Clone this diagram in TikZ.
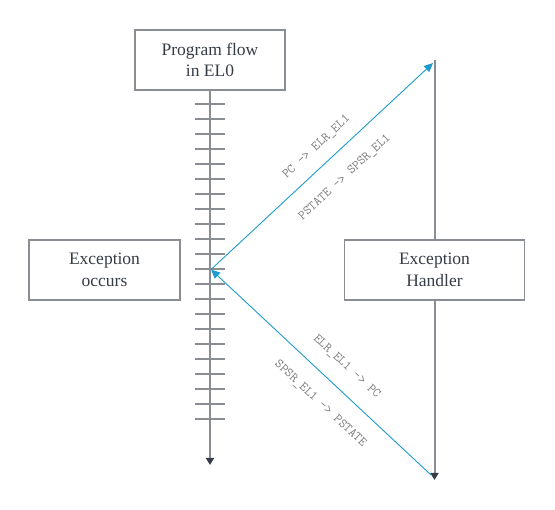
\documentclass[tikz,border=0pt]{standalone}
\usepackage{fontspec}
\setmainfont{Liberation Serif}
\usetikzlibrary{arrows.meta}

\definecolor{boxgray}{HTML}{8A8D92}
\definecolor{inkgray}{HTML}{363C46}
\definecolor{flowblue}{HTML}{1E9BCD}
\definecolor{labelgray}{HTML}{7C7C7C}

\begin{document}
\begin{tikzpicture}[x=1pt,y=-1pt,
  flowbox/.style={draw=boxgray,line width=1.3pt,text=inkgray,align=center,
    minimum height=60pt,inner sep=0pt,font=\fontsize{17.5}{21.5}\selectfont},
  flowline/.style={draw=boxgray,line width=2pt},
  flowtip/.style={-{Triangle[length=7pt,width=8pt,color=inkgray]}},
  blueline/.style={draw=flowblue,line width=0.9pt},
  bluetip/.style={-{Triangle[length=9pt,width=8pt]}},
  reglabel/.style={text=labelgray,font=\fontsize{13}{14}\selectfont\ttfamily,
    sloped,inner sep=0pt}]

\useasboundingbox (0,0) rectangle (555,510);

\node[flowbox,minimum width=150pt] (flow) at (210,60) {Program flow\\in EL0};
\node[flowbox,minimum width=151pt] (occurs) at (104.5,270) {Exception\\occurs};
\node[flowbox,minimum width=180pt] (handler) at (434.5,270) {Exception\\Handler};

\coordinate (flowend) at (210,465);
\coordinate (exc) at (211,269.5);
\coordinate (htop) at (434.5,60);
\coordinate (hend) at (434.5,480);
\coordinate (vtop) at (433,63);
\coordinate (vbot) at (431,475);

% program flow in EL0
\draw[flowline,flowtip] (flow.south) -- (flowend);
\foreach \t in {0,...,21}
  \draw[flowline] (195,104+15*\t) -- (225,104+15*\t);

% handler
\draw[flowline] (htop) -- (handler.north);
\draw[flowline,flowtip] (handler.south) -- (hend);

\draw[blueline,bluetip] (exc) --
  node[reglabel,pos=0.53,above=12pt] {PC -> ELR\_EL1}
  node[reglabel,pos=0.53,below=18pt] {PSTATE -> SPSR\_EL1} (vtop);
\draw[blueline,bluetip] (vbot) -- (exc);
\path (exc) --
  node[reglabel,pos=0.55,above=16pt] {ELR\_EL1 -> PC}
  node[reglabel,pos=0.57,below=18pt] {SPSR\_EL1 -> PSTATE} (vbot);
\end{tikzpicture}
\end{document}
